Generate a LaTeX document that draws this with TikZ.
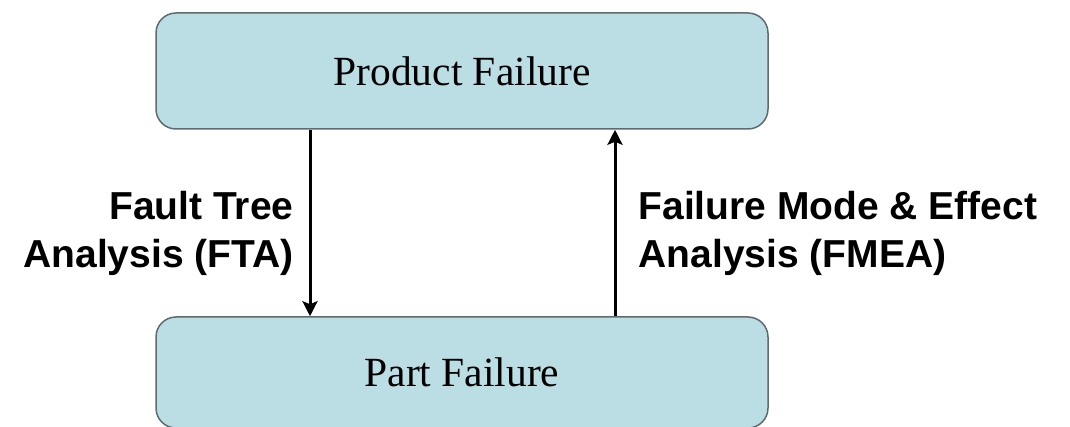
\documentclass[tikz,border=0pt]{standalone}
\usepackage{fontspec}
\setmainfont{Liberation Serif}
\setsansfont{Liberation Sans}
\usetikzlibrary{arrows.meta, positioning}
\definecolor{pfFill}{HTML}{BADEE3}
\definecolor{pfEdge}{HTML}{5F6B6E}
\definecolor{pfInk}{HTML}{000000}
\tikzset{
  pfbox/.style={
    draw=pfEdge, fill=pfFill, line width=1.5pt, rounded corners=20pt,
    minimum width=612pt, minimum height=116pt, text=pfInk,
    font=\rmfamily\fontsize{41.5}{50}\selectfont,
  },
  pflabel/.style={
    inner sep=0pt, align=right, text=pfInk,
    font=\sffamily\bfseries\fontsize{39}{48}\selectfont,
  },
  pfarrow/.style={
    -{Stealth[length=15pt, width=15pt, inset=3pt]}, draw=pfInk, line width=3pt,
  },
}

\begin{document}
\begin{tikzpicture}[x=1pt, y=-1pt]
\clip (0,0) rectangle (1070,427);

% Boxes -------------------------------------------------------------------
\node[pfbox] (prod) at (462,71) {Product Failure};
\node[pfbox, minimum height=111pt] (part) at (462,372.5) {Part Failure};

% Flow --------------------------------------------------------------------
\draw[pfarrow] ([xshift=-152pt]prod.south) -- node[pflabel, left=15pt, yshift=-10pt]
  {Fault Tree\\Analysis (FTA)} ([xshift=-152pt]part.north);
\draw[pfarrow] ([xshift=153pt]part.north) -- node[pflabel, right=22pt, yshift=-10pt, align=left]
  {Failure Mode \& Effect\\Analysis (FMEA)} ([xshift=153pt]prod.south);

\end{tikzpicture}
\end{document}
